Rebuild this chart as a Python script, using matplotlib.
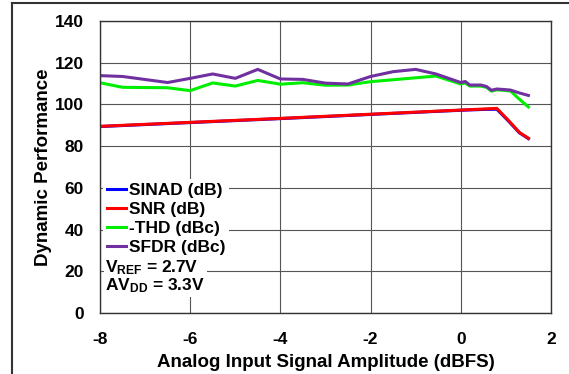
import matplotlib
matplotlib.use("Agg")
import matplotlib.pyplot as plt
from matplotlib.lines import Line2D

plt.rcParams['font.family'] = ['Liberation Sans', 'DejaVu Sans']
plt.rcParams['font.weight'] = 'bold'
plt.rcParams['axes.unicode_minus'] = False
plt.rcParams['mathtext.fontset'] = 'custom'
plt.rcParams['mathtext.rm'] = 'Liberation Sans:bold'
plt.rcParams['mathtext.bf'] = 'Liberation Sans:bold'

# dados
sfdr_x = [-8, -7.5, -6.5, -6, -5.5, -5, -4.5, -4, -3.5, -3, -2.5, -2, -1.5, -1, -0.55,
          0, 0.1, 0.2, 0.45, 0.57, 0.68, 0.8, 1.1, 1.3, 1.5]
sfdr_y = [113.8, 113.4, 110.5, 112.5, 114.6, 112.5, 116.8, 112.2, 112, 110.2, 109.8, 113.4, 115.7, 116.8, 114.6,
          110.5, 111, 109.3, 109.3, 108.6, 106.8, 107.4, 106.9, 105.5, 104.3]

thd_x = [-8, -7.5, -6.5, -6, -5.5, -5, -4.5, -4, -3.5, -3, -2.5, -2, -0.55,
         0, 0.1, 0.2, 0.45, 0.57, 0.68, 0.8, 1.1, 1.3, 1.5]
thd_y = [110.4, 108.2, 108, 106.6, 110.3, 108.8, 111.5, 109.7, 110.4, 109.2, 109.3, 110.9, 113.6,
         109.8, 110.3, 108.8, 108.8, 108.2, 106.4, 107, 106.5, 102.5, 98.8]

snr_x = [-8, -6, -4, -2, 0, 0.5, 0.8, 1.05, 1.3, 1.5]
snr_y = [89.5, 91.4, 93.3, 95.3, 97.3, 97.8, 98.1, 92.5, 86.6, 83.8]
sinad_y = [89.4, 91.3, 93.2, 95.2, 97.2, 97.6, 97.7, 92.2, 86.4, 83.6]

x_ticks = [-8, -6, -4, -2, 0, 2]
y_ticks = [0, 20, 40, 60, 80, 100, 120, 140]

fig = plt.figure(figsize=(5.69, 3.74), dpi=100)
ax = fig.add_axes([0.1757, 0.163, 0.7926, 0.7809])

ax.plot(snr_x, sinad_y, color='#0000FF', lw=2.2, label='SINAD (dB)')
ax.plot(snr_x, snr_y, color='#FF0000', lw=2.2, label='SNR (dB)')
ax.plot(thd_x, thd_y, color='#00EE00', lw=2.2, label='-THD (dBc)')
ax.plot(sfdr_x, sfdr_y, color='#7030A0', lw=2.2, label='SFDR (dBc)')

ax.set_xlim(-8, 2)
ax.set_ylim(0, 140)
ax.set_xticks(x_ticks)
ax.set_yticks(y_ticks)
ax.tick_params(axis='y', length=0, labelsize=12.5, pad=11.5)
ax.tick_params(axis='x', length=0, labelsize=12.5, pad=14)
ax.grid(True, color='#555555', lw=0.8)
ax.set_axisbelow(True)
for s in ax.spines.values():
    s.set_color('#333333')
    s.set_linewidth(1)

ax.set_xlabel('Analog Input Signal Amplitude (dBFS)', fontsize=13.5, fontweight='bold', labelpad=4.5)
ax.set_ylabel('Dynamic Performance', fontsize=13.5, fontweight='bold', labelpad=2)

leg = ax.legend(loc='upper left', bbox_to_anchor=(0.0, 0.47), frameon=True, fontsize=12.5,
                handlelength=1.1, handletextpad=0.15, labelspacing=0.22, borderpad=0.2,
                borderaxespad=0.2)
leg.get_frame().set_edgecolor('none')
leg.get_frame().set_facecolor('white')
leg.get_frame().set_alpha(1)

ax.text(0.012, 0.125, '$\\mathregular{V_{REF}}$ = 2.7V\n$\\mathregular{AV_{DD}}$ = 3.3V', transform=ax.transAxes,
        fontsize=12.5, fontweight='bold', va='center', ha='left', linespacing=1.0,
        bbox=dict(facecolor='white', edgecolor='none', pad=1))

# moldura da figura
fig.add_artist(Line2D([12/569, 1], [1-3/374, 1-3/374], color='#333333', lw=1.5))
fig.add_artist(Line2D([12/569, 12/569], [0, 1-3/374], color='#333333', lw=1.5))

fig.savefig('out.png', dpi=100)
